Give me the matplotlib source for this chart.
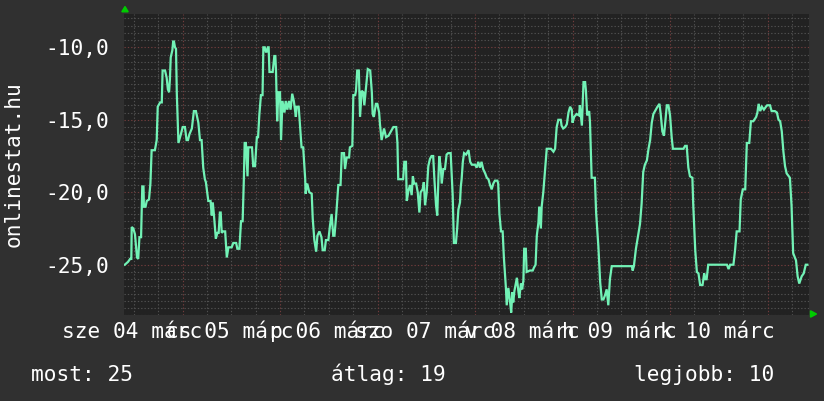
import matplotlib
matplotlib.use("Agg")
import matplotlib.pyplot as plt
from matplotlib.patches import Polygon
from matplotlib.transforms import ScaledTranslation
import numpy as np

# ---- data: hours since 2015-03-04 00:00, temperature values ----
seg_mar04 = [(9.8, -25.0), (10.6, -24.8), (11.1, -24.6), (11.4, -24.6), (11.5, -22.4), (11.9, -22.5),
             (12.3, -22.9), (12.8, -24.5), (13.1, -24.6), (13.4, -23.1), (13.8, -23.1), (14.1, -19.6),
             (14.4, -19.6), (14.5, -21.0), (14.9, -21.0), (15.2, -20.6), (15.75, -20.5), (16.1, -19.4),
             (16.4, -17.1), (17.2, -17.1), (17.65, -16.4), (17.9, -14.1), (18.5, -13.8), (18.9, -13.8),
             (19.1, -11.6), (19.7, -11.6), (20.1, -12.1), (20.4, -12.9), (20.7, -13.1), (20.9, -12.2),
             (21.1, -10.7), (21.5, -10.2), (21.7, -9.6), (21.9, -9.6), (22.15, -10.0), (22.4, -10.1),
             (22.6, -13.2), (23.0, -16.6), (23.3, -16.3), (23.6, -16.0)]
seg_mar05 = [(24.05, -15.5), (24.6, -15.5), (25.0, -16.4), (25.35, -16.4), (25.7, -16.0), (26.3, -15.6),
             (26.8, -14.4), (27.3, -14.4), (27.9, -15.2), (28.3, -16.4), (28.7, -16.4), (29.1, -18.3),
             (29.5, -19.1), (29.75, -19.3), (30.35, -20.6), (30.9, -20.6), (31.2, -21.6), (31.45, -20.7),
             (31.75, -21.6), (32.2, -23.2), (32.6, -22.8), (32.9, -22.8), (33.2, -21.4), (33.4, -21.4),
             (33.65, -22.8), (34.0, -22.7), (34.5, -22.7), (34.9, -24.5), (35.3, -23.8), (36.1, -23.8),
             (36.5, -23.5), (37.2, -23.5), (37.5, -23.9), (38.0, -23.9), (38.4, -22.0), (38.8, -22.0),
             (39.1, -19.1), (39.3, -16.6), (39.6, -16.6), (40.0, -18.9), (40.2, -16.9), (41.1, -16.9),
             (41.4, -18.2), (41.85, -18.2), (42.3, -16.2), (42.6, -16.2), (42.9, -14.7), (43.3, -13.3),
             (43.7, -13.3), (43.9, -10.0), (44.25, -10.0), (44.5, -10.3), (44.7, -10.3), (45.0, -10.0),
             (45.2, -10.0), (45.4, -11.7), (46.2, -11.7), (46.6, -10.6), (46.85, -10.6), (47.0, -11.5),
             (47.3, -15.1), (47.6, -13.1), (48.0, -13.1)]
seg_mar06 = [(48.25, -16.4), (48.6, -13.7), (49.1, -14.5), (49.4, -13.7), (49.8, -14.3), (50.2, -13.7),
             (50.6, -14.3), (51.0, -13.2), (51.4, -13.7), (51.9, -14.8), (52.1, -14.1), (52.6, -14.1),
             (52.9, -15.3), (53.3, -16.9), (53.7, -16.9), (54.2, -19.1), (54.3, -20.1), (54.7, -19.4),
             (55.2, -20.0), (55.8, -20.1), (56.05, -21.8), (56.45, -23.3), (56.9, -24.1), (57.2, -23.0),
             (57.7, -22.7), (58.2, -23.1), (58.5, -24.0), (59.0, -24.0), (59.3, -23.3), (59.9, -23.3),
             (60.3, -22.3), (60.7, -21.5), (61.1, -23.0), (61.4, -23.0), (61.8, -21.7), (62.35, -19.5),
             (62.9, -19.5), (63.2, -17.3), (63.75, -17.3), (64.0, -18.4), (64.4, -17.6), (65.0, -17.6),
             (65.2, -16.9), (65.8, -16.8), (66.05, -13.3), (66.5, -13.3), (66.7, -13.0), (67.0, -11.6),
             (67.4, -11.6), (67.7, -14.8), (68.1, -13.0), (68.5, -13.1), (68.75, -14.0), (69.1, -13.0),
             (69.6, -11.5), (70.2, -11.6), (70.6, -13.1), (70.8, -14.6), (71.1, -14.8), (71.6, -13.9),
             (71.95, -13.9)]
seg_mar07 = [(72.4, -14.5), (72.6, -15.3), (73.0, -16.4), (73.6, -15.6), (74.1, -16.2), (74.7, -16.1),
             (75.1, -15.9), (75.9, -15.5), (76.6, -15.5), (76.9, -16.6), (77.1, -19.1), (78.3, -19.1),
             (78.6, -17.9), (79.0, -17.9), (79.2, -20.6), (79.6, -19.9), (80.0, -19.5), (80.4, -20.2),
             (80.7, -18.9), (81.0, -19.4), (81.5, -19.4), (81.9, -20.0), (82.3, -21.4), (82.6, -20.0),
             (83.1, -19.8), (83.4, -19.3), (83.7, -20.9), (84.1, -20.0), (84.5, -18.2), (84.9, -17.7),
             (85.3, -17.5), (85.7, -17.5), (86.0, -19.1), (86.4, -20.9), (86.7, -21.6), (87.0, -18.9),
             (87.2, -17.5), (87.6, -18.4), (87.8, -19.4), (88.2, -18.4), (88.6, -18.4), (89.0, -17.4),
             (89.4, -17.3), (90.0, -17.3), (90.3, -19.0), (90.5, -20.2), (90.8, -23.5), (91.3, -23.5),
             (91.6, -22.5), (91.9, -21.2), (92.3, -20.7), (92.5, -19.6), (92.7, -19.1), (93.0, -17.9),
             (93.3, -17.3), (93.8, -17.4), (94.4, -17.1), (94.8, -17.9), (95.2, -18.1), (96.0, -18.1)]
seg_mar08 = [(96.4, -18.3), (96.8, -17.9), (97.2, -18.3), (97.6, -17.9), (98.0, -18.4), (98.5, -18.7),
             (98.9, -19.0), (99.3, -19.1), (99.7, -19.5), (100.1, -19.8), (100.5, -19.4), (100.9, -19.2),
             (101.5, -19.2), (101.7, -19.4), (102.0, -21.5), (102.4, -22.7), (102.8, -22.7), (103.1, -24.5),
             (103.6, -26.6), (103.8, -27.8), (104.2, -26.6), (104.6, -27.5), (104.9, -28.3), (105.2, -26.9),
             (105.4, -27.6), (105.7, -26.8), (106.3, -25.9), (106.7, -26.9), (106.9, -27.3), (107.3, -26.3),
             (107.6, -26.7), (107.9, -26.1), (108.1, -23.9), (108.5, -23.9), (108.7, -25.5), (109.5, -25.4),
             (110.2, -25.4), (110.5, -25.2), (110.9, -25.0), (111.2, -23.0), (111.6, -22.1), (111.8, -21.0),
             (112.2, -22.5), (112.4, -21.0), (112.8, -20.0), (113.2, -18.6), (113.65, -17.0), (114.7, -17.0),
             (115.3, -17.2), (115.7, -17.0), (116.1, -15.5), (116.5, -15.0), (117.1, -15.0), (117.3, -15.4),
             (117.7, -15.6), (118.2, -15.5), (118.6, -15.3), (119.0, -14.5), (119.4, -14.1), (119.8, -14.3)]
seg_mar09 = [(120.0, -15.2), (120.4, -14.8), (121.0, -14.6), (121.6, -14.7), (121.8, -14.0), (122.3, -15.4),
             (122.7, -12.4), (123.1, -12.4), (123.3, -13.0), (123.6, -14.7), (124.1, -14.4), (124.3, -15.2),
             (124.7, -19.0), (125.5, -19.0), (125.8, -21.4), (126.35, -23.7), (126.8, -26.2), (127.2, -27.4),
             (127.6, -27.4), (128.0, -27.1), (128.4, -26.7), (128.8, -27.8), (129.2, -26.0), (129.65, -25.1),
             (134.6, -25.1), (134.8, -25.4), (135.1, -25.1), (135.6, -23.9), (136.2, -22.9), (136.6, -22.2),
             (137.0, -20.8), (137.4, -18.6), (137.8, -18.1), (138.3, -17.8), (138.7, -17.0), (139.1, -16.4),
             (139.5, -15.2), (139.9, -14.6), (140.3, -14.4), (140.9, -14.1), (141.4, -13.9), (141.7, -14.6),
             (142.1, -15.8), (142.5, -16.1), (142.85, -15.1), (143.2, -14.0), (143.6, -14.0)]
seg_mar10 = [(144.0, -14.7), (144.4, -16.2), (144.7, -17.0), (147.3, -17.0), (147.7, -16.8), (148.1, -16.8),
             (148.5, -18.3), (148.9, -18.9), (149.5, -19.0), (149.7, -20.8), (150.2, -24.0), (150.6, -25.5),
             (151.0, -25.6), (151.4, -26.4), (152.0, -26.4), (152.4, -25.6), (152.7, -26.0), (153.0, -26.0),
             (153.4, -25.0), (158.0, -25.0), (158.4, -25.3), (158.8, -25.0), (159.6, -25.0), (160.0, -24.0),
             (160.4, -22.7), (161.1, -22.7), (161.4, -20.5), (161.9, -19.8), (162.5, -19.8), (162.9, -16.6),
             (163.5, -16.6), (163.9, -15.1), (164.5, -15.1), (165.2, -14.8), (165.5, -14.5), (165.8, -13.9),
             (166.2, -14.4), (166.6, -14.1), (167.1, -14.3), (167.6, -14.1), (167.9, -14.0), (168.6, -14.0),
             (169.0, -14.4), (169.8, -14.4), (170.3, -14.5), (170.7, -15.0), (171.1, -15.1), (171.5, -15.8),
             (171.9, -17.2), (172.3, -18.2), (172.7, -18.7), (173.5, -19.0), (173.9, -20.9), (174.3, -24.2),
             (175.0, -24.7), (175.4, -25.8), (175.8, -26.3), (176.4, -25.8), (176.9, -25.6), (177.4, -25.0),
             (177.8, -25.0)]

day_centers = [12, 36, 60, 84, 108, 132, 156]
day_labels = ["sze 04 márc", "cs 05 márc", "p 06 márc", "szo 07 márc",
              "v 08 márc", "h 09 márc", "k 10 márc"]
y_ticks = [-25, -20, -15, -10]
y_tick_labels = ["-25,0", "-20,0", "-15,0", "-10,0"]
y_title = "onlinestat.hu"
summary = [("most: 25", 31), ("átlag: 19", 331), ("legjobb: 10", 634)]

# ---- figure ----
W, H = 824, 402
BG = "#303030"
PLOT_BG = "#222222"
LINE = "#72f2b6"
FONT = "DejaVu Sans Mono"
FS = 15.2

fig = plt.figure(figsize=(W / 100, H / 100), dpi=100, facecolor=BG)
ax = fig.add_axes([124 / W, 1 - 316 / H, 685 / W, 301 / H])
ax.set_facecolor(PLOT_BG)
ax.set_xlim(9.6, 178.2)
ax.set_ylim(-28.47, -7.70)
for s in ax.spines.values():
    s.set_visible(False)
ax.set_xticks([])
ax.set_yticks([])

# grid
minor_col = "#505050"
major_col = "#703c3c"
for v in np.arange(-28.5, -7.9, 0.5):
    if abs(v - round(v / 5) * 5) < 1e-6:
        ax.axhline(v, color=major_col, lw=0.8, dashes=(1.2, 1.8), zorder=1)
    else:
        ax.axhline(v, color=minor_col, lw=0.8, dashes=(1.2, 1.8), zorder=1)
for h in range(12, 178, 6):
    col = major_col if h % 24 == 0 else minor_col
    ax.axvline(h, color=col, lw=0.8, dashes=(1.2, 1.8), zorder=1)

# data line
pts = seg_mar04 + seg_mar05 + seg_mar06 + seg_mar07 + seg_mar08 + seg_mar09 + seg_mar10
hours = [p[0] for p in pts]
temps = [p[1] for p in pts]
ax.plot(hours, temps, color=LINE, lw=1.6, zorder=3, solid_joinstyle="miter")

# y tick labels
ytrans = ax.get_yaxis_transform() + ScaledTranslation(-15 / 100, -7 / 100, fig.dpi_scale_trans)
for v, lab in zip(y_ticks, y_tick_labels):
    ax.text(0, v, lab, transform=ytrans, ha="right", va="baseline",
            color="white", fontsize=FS, family=FONT)

# x labels
xtrans = ax.get_xaxis_transform() + ScaledTranslation(-1.5 / 100, -22.5 / 100, fig.dpi_scale_trans)
for c, lab in zip(day_centers, day_labels):
    ax.text(c, 0, lab, transform=xtrans, ha="center", va="baseline",
            color="white", fontsize=FS, family=FONT)

# y title
fig.text(14 / W, 1 - 164 / H, y_title, rotation=90, ha="center", va="center",
         color="white", fontsize=FS, family=FONT)

# summary line
for txt, x in summary:
    fig.text(x / W, 1 - 381 / H, txt, ha="left", va="baseline",
             color="white", fontsize=FS, family=FONT)

# axis arrows
def fpx(x, y):
    return (x / W, 1 - y / H)

fig.patches.append(Polygon([fpx(125, 7.5), fpx(121.8, 12.8), fpx(128.2, 12.8)],
                           closed=True, transform=fig.transFigure, color="#00cc00"))
fig.patches.append(Polygon([fpx(816.5, 315), fpx(810.5, 311.8), fpx(810.5, 318.2)],
                           closed=True, transform=fig.transFigure, color="#00cc00"))

fig.savefig("out.png", dpi=100, facecolor=BG)
